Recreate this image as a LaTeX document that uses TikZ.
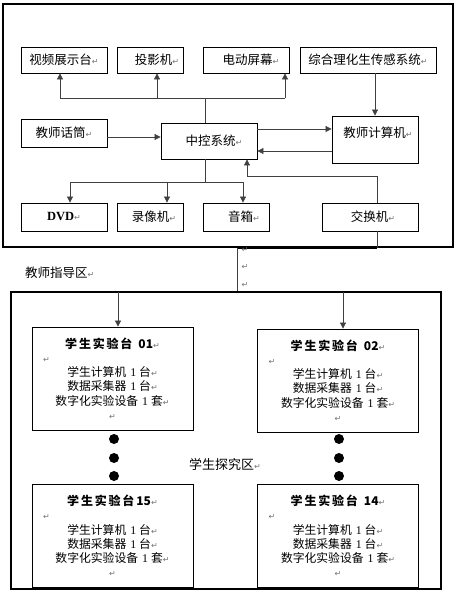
\documentclass[tikz,border=0pt]{standalone}
\usepackage{fontspec}
\setmainfont{Noto Sans CJK SC}
\newfontfamily\lser{Liberation Serif}
\newfontfamily\dvs{DejaVu Sans}
\usetikzlibrary{arrows.meta}
\newcommand\parmark{{\dvs\fontsize{8}{8}\selectfont\color{black!55}↵}}
\newcommand\one{\hspace{4pt}{\lser 1}\hspace{3pt}}
\begin{document}
\begin{tikzpicture}[x=1pt,y=-1pt,
  box/.style={draw=black, line width=0.8pt, inner sep=0pt, font=\fontsize{12.5}{15}\selectfont},
  region/.style={draw=black, line width=1.1pt, inner sep=0pt},
  sbox/.style={draw=black, line width=0.8pt, inner sep=0pt, minimum width=161pt, minimum height=103pt, align=center, font=\fontsize{11.8}{14.2}\selectfont},
  ln/.style={draw=black!75, line width=0.7pt},
  arr/.style={ln, -{Triangle[length=6pt,width=6pt]}},
  dot/.style={circle, fill=black, minimum size=10pt, inner sep=0pt},
  lbl/.style={inner sep=0pt, font=\fontsize{12.5}{15}\selectfont}
]
\useasboundingbox (0,0) rectangle (457,593);
% regions
\node[region, minimum width=450pt, minimum height=243pt] (top) at (228,125.5) {};
\node[region, minimum width=430pt, minimum height=297pt] (stu) at (226,440.5) {};
% top row
\node[box, minimum width=86pt, minimum height=26pt] (vid) at (64,60) {视频展示台\parmark};
\node[box, minimum width=66pt, minimum height=26pt] (tyj) at (150,60) {\hspace*{14pt}投影机\parmark};
\node[box, minimum width=86pt, minimum height=26pt] (ddpm) at (246,60) {\hspace*{10pt}电动屏幕\parmark};
\node[box, minimum width=136pt, minimum height=26pt] (zh) at (368,60) {综合理化生传感系统\parmark};
% middle row
\node[box, minimum width=86pt, minimum height=28pt] (mic) at (64,133) {教师话筒\parmark};
\node[box, minimum width=96pt, minimum height=36pt] (zk) at (209,141) {\hspace*{10pt}中控系统\parmark};
\node[box, minimum width=86pt, minimum height=47pt, align=center] (jsj) at (375,139.5) {\hspace*{6pt}教师计算机\parmark\\ \mbox{}};
% bottom row
\node[box, minimum width=86pt, minimum height=28pt] (dvd) at (64,217) {{\lser\bfseries DVD}\parmark};
\node[box, minimum width=66pt, minimum height=28pt] (lxj) at (150,217) {\hspace*{8pt}录像机\parmark};
\node[box, minimum width=66pt, minimum height=28pt] (yx) at (236,217) {\hspace*{16pt}音箱\parmark};
\node[box, minimum width=96pt, minimum height=28pt] (jhj) at (370,217) {\hspace*{6pt}交换机\parmark};
% connectors: central control to display devices
\coordinate (hub) at (205,98);
\coordinate (u1) at (60,98);
\coordinate (u2) at (157,98);
\coordinate (u3) at (285,98);
\draw[ln] (zk.north -| hub) -- (hub);
\draw[ln] (u1) -- (u3);
\draw[arr] (u1) -- (u1 |- vid.south);
\draw[arr] (u2) -- (u2 |- tyj.south);
\draw[arr] (u3) -- (u3 |- ddpm.south);
% sensor system to teacher computer
\draw[arr] (zh.south -| jsj.north) -- (jsj.north);
% microphone to central control
\draw[arr] ([yshift=-4pt]mic.east) -- ([yshift=-4pt]mic.east -| zk.west);
% central control <-> teacher computer
\draw[arr] ([yshift=12pt]zk.east) -- ([yshift=12pt]zk.east -| jsj.west);
\draw[arr] ([yshift=-10pt]zk.east -| jsj.west) -- ([yshift=-10pt]zk.east);
% switch to central control
\coordinate (k1) at (377,176);
\coordinate (k2) at (247,176);
\draw[arr] (k1 |- jhj.north) -- (k1) -- (k2) -- (k2 |- zk.south);
% central control to DVD, recorder, speaker
\coordinate (dh) at (205,182);
\coordinate (d1) at (70,182);
\coordinate (d2) at (167,182);
\coordinate (d3) at (243,182);
\draw[ln] (zk.south -| dh) -- (dh);
\draw[ln] (d1) -- (d3);
\draw[arr] (d1) -- (d1 |- dvd.north);
\draw[arr] (d2) -- (d2 |- lxj.north);
\draw[arr] (d3) -- (d3 |- yx.north);
% switch down to student area
\coordinate (s1) at (377,248);
\coordinate (s2) at (237,248);
\draw[ln] (jhj.south -| s1) -- (s1);
\draw[draw=black, line width=1.4pt] (s1) -- (s2);
\draw[ln] (s2) -- (s2 |- stu.north);
% labels
\node[lbl, anchor=west] (tzq) at (25,273) {教师指导区\parmark};
\node[inner sep=0pt] (pm1) at (245,250) {\parmark};
\node[inner sep=0pt] (pm2) at (245,267) {\parmark};
\node[inner sep=0pt] (pm3) at (245,285) {\parmark};
% student boxes
\node[sbox] (s01) at (112.5,378.5) {{\fontsize{12}{14.2}\selectfont\bfseries 学\kern1.8pt 生\kern1.8pt 实\kern1.8pt 验\kern1.8pt 台\kern6pt 01}\parmark\\
\makebox[139pt][l]{\parmark}\\
学生计算机\one 台\parmark\\
数据采集器\one 台\parmark\\
数字化实验设备\one 套\parmark\\
\parmark};
\node[sbox] (s02) at (338,380.5) {{\fontsize{12}{14.2}\selectfont\bfseries 学\kern1.8pt 生\kern1.8pt 实\kern1.8pt 验\kern1.8pt 台\kern6pt 02}\parmark\\
\makebox[139pt][l]{\parmark}\\
学生计算机\one 台\parmark\\
数据采集器\one 台\parmark\\
数字化实验设备\one 套\parmark\\
\parmark};
\node[sbox] (s15) at (112.5,536) {{\fontsize{12}{14.2}\selectfont\bfseries 学\kern1.8pt 生\kern1.8pt 实\kern1.8pt 验\kern1.8pt 台\kern2pt 15}\parmark\\
\makebox[139pt][l]{\parmark}\\
学生计算机\one 台\parmark\\
数据采集器\one 台\parmark\\
数字化实验设备\one 套\parmark\\
\parmark};
\node[sbox] (s14) at (338,536) {{\fontsize{12}{14.2}\selectfont\bfseries 学\kern1.8pt 生\kern1.8pt 实\kern1.8pt 验\kern1.8pt 台\kern6pt 14}\parmark\\
\makebox[139pt][l]{\parmark}\\
学生计算机\one 台\parmark\\
数据采集器\one 台\parmark\\
数字化实验设备\one 套\parmark\\
\parmark};
% arrows into student area
\coordinate (a1) at (118,292);
\coordinate (a2) at (343,292);
\draw[arr] (a1) -- (a1 |- s01.north);
\draw[arr] (a2) -- (a2 |- s02.north);
% dots
\node[dot] (l1) at (114,439) {};
\node[dot] (l2) at (114,458) {};
\node[dot] (l3) at (114,476) {};
\node[dot] (r1) at (339,439) {};
\node[dot] (r2) at (339,458) {};
\node[dot] (r3) at (339,476) {};
\node[lbl, font=\fontsize{13}{15}\selectfont] (tjq) at (225,464) {学生探究区\parmark};
\end{tikzpicture}
\end{document}
